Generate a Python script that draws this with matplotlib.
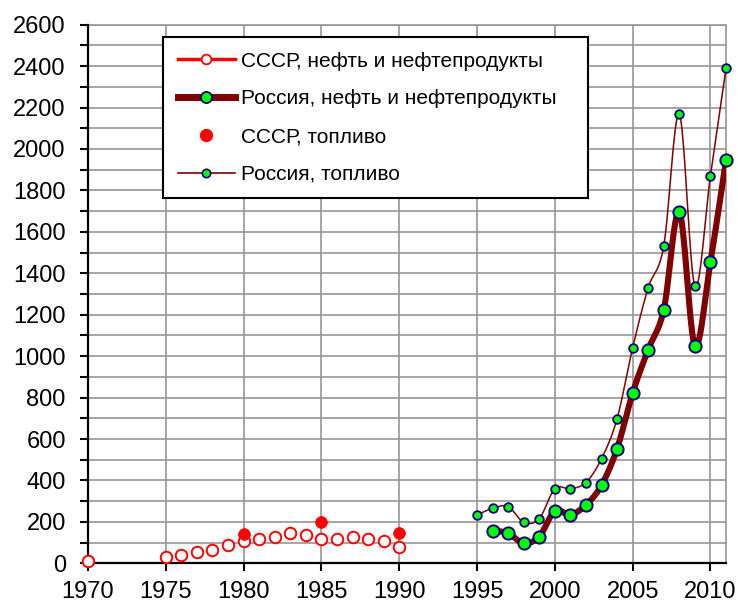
import numpy as np
import matplotlib
matplotlib.use("Agg")
import matplotlib.pyplot as plt
from matplotlib.lines import Line2D

plt.rcParams['font.family'] = ['Liberation Sans', 'DejaVu Sans']

# ---- data ----
ussr_oil_years = [1970, 1975, 1976, 1977, 1978, 1979, 1980, 1981, 1982, 1983,
                  1984, 1985, 1986, 1987, 1988, 1989, 1990]
ussr_oil_vals = [11, 31, 42, 53, 63, 90, 106, 118, 129, 145,
                 137, 118, 118, 126, 118, 108, 81]

ussr_fuel_years = [1980, 1985, 1990]
ussr_fuel_vals = [142, 197, 148]

rus_oil_years = [1996, 1997, 1998, 1999, 2000, 2001, 2002, 2003, 2004, 2005,
                 2006, 2007, 2008, 2009, 2010, 2011]
rus_oil_vals = [158, 145, 97, 129, 253, 234, 282, 377, 553, 822,
                1032, 1224, 1695, 1051, 1455, 1946]

rus_fuel_years = [1995, 1996, 1997, 1998, 1999, 2000, 2001, 2002, 2003, 2004,
                  2005, 2006, 2007, 2008, 2009, 2010, 2011]
rus_fuel_vals = [234, 265, 274, 197, 216, 360, 360, 390, 505, 698,
                 1040, 1330, 1532, 2167, 1339, 1870, 2389]

labels = ['СССР, нефть и нефтепродукты', 'Россия, нефть и нефтепродукты',
          'СССР, топливо', 'Россия, топливо']


def smooth(xs, ys, n=24):
    """Excel-like smoothed line (Catmull-Rom Bezier) through the given points."""
    x = np.asarray(xs, float)
    y = np.asarray(ys, float)
    px = np.concatenate([[x[0]], x, [x[-1]]])
    py = np.concatenate([[y[0]], y, [y[-1]]])
    ox, oy = [x[0]], [y[0]]
    t = np.linspace(0, 1, n)[1:]
    for i in range(1, len(px) - 2):
        p0 = np.array([px[i - 1], py[i - 1]])
        p1 = np.array([px[i], py[i]])
        p2 = np.array([px[i + 1], py[i + 1]])
        p3 = np.array([px[i + 2], py[i + 2]])
        c1 = p1 + (p2 - p0) / 6.0
        c2 = p2 - (p3 - p1) / 6.0
        for tt in t:
            b = ((1 - tt) ** 3) * p1 + 3 * ((1 - tt) ** 2) * tt * c1 + \
                3 * (1 - tt) * tt ** 2 * c2 + tt ** 3 * p2
            ox.append(b[0])
            oy.append(b[1])
    return ox, oy


W, H = 738, 603
fig = plt.figure(figsize=(W / 100, H / 100), dpi=100)
ax = fig.add_axes([88 / W, 1 - 563.3 / H, (726 - 88) / W, (563.3 - 24.7) / H])

dark = '#800000'
green = '#00FF00'
navy = '#000080'

# Russia fuel (thin)
sx, sy = smooth(rus_fuel_years, rus_fuel_vals)
ax.plot(sx, sy, color=dark, lw=1.1, zorder=3, solid_capstyle='round')
ax.plot(rus_fuel_years, rus_fuel_vals, ls='none', marker='o', ms=6.2,
        mfc=green, mec=navy, mew=1.3, zorder=5, clip_on=False)

# Russia oil (thick)
sx, sy = smooth(rus_oil_years, rus_oil_vals)
ax.plot(sx, sy, color=dark, lw=4.4, zorder=4, solid_capstyle='round')
ax.plot(rus_oil_years, rus_oil_vals, ls='none', marker='o', ms=8.8,
        mfc=green, mec=navy, mew=1.4, zorder=6, clip_on=False)

# USSR oil (open markers)
ax.plot(ussr_oil_years, ussr_oil_vals, ls='none', marker='o', ms=8.3,
        mfc='white', mec='red', mew=1.4, zorder=8, clip_on=False)
# USSR fuel (filled)
ax.plot(ussr_fuel_years, ussr_fuel_vals, ls='none', marker='o', ms=8.5,
        mfc='red', mec='red', mew=0.5, zorder=9, clip_on=False)

ax.set_xlim(1970, 2011)
ax.set_ylim(0, 2600)
ax.set_xticks(np.arange(1970, 2011, 5))
ax.set_yticks(np.arange(0, 2601, 200))
ax.set_yticks(np.arange(100, 2600, 200), minor=True)
ax.tick_params(axis='both', which='both', direction='out', length=6,
               width=1.5, color='black', labelsize=17)
ax.tick_params(axis='y', pad=10)
ax.tick_params(axis='x', pad=7)

grid_c = '#969696'
ax.grid(True, which='both', axis='y', color=grid_c, lw=1.2)
ax.grid(True, which='major', axis='x', color=grid_c, lw=1.2)
ax.set_axisbelow(True)
for s in ['top', 'right']:
    ax.spines[s].set_color(grid_c)
    ax.spines[s].set_linewidth(1.2)
for s in ['left', 'bottom']:
    ax.spines[s].set_color('black')
    ax.spines[s].set_linewidth(1.6)
    ax.spines[s].set_zorder(7)

handles = [
    Line2D([], [], color='red', lw=2.5, marker='o', ms=7, mfc='white',
           mec='red', mew=1.3),
    Line2D([], [], color=dark, lw=5, marker='o', ms=8, mfc=green,
           mec=navy, mew=1.3),
    Line2D([], [], ls='none', marker='o', ms=8.5, mfc='red', mec='red'),
    Line2D([], [], color=dark, lw=1.2, marker='o', ms=6, mfc=green,
           mec=navy, mew=1.2),
]
x0, y0 = 163 / W, 1 - 194 / H
x1, y1 = 588 / W, 1 - 37 / H
leg = ax.legend(handles, labels, loc='upper left',
                bbox_to_anchor=(x0, y0, x1 - x0, y1 - y0),
                bbox_transform=fig.transFigure, mode='expand',
                fontsize=15, frameon=True, fancybox=False, framealpha=1,
                edgecolor='black', borderaxespad=0, borderpad=0.7,
                handlelength=2.75, handletextpad=0.3, labelspacing=0.9)
leg.get_frame().set_linewidth(1.5)
leg.set_zorder(10)

fig.savefig('out.png', dpi=100)
